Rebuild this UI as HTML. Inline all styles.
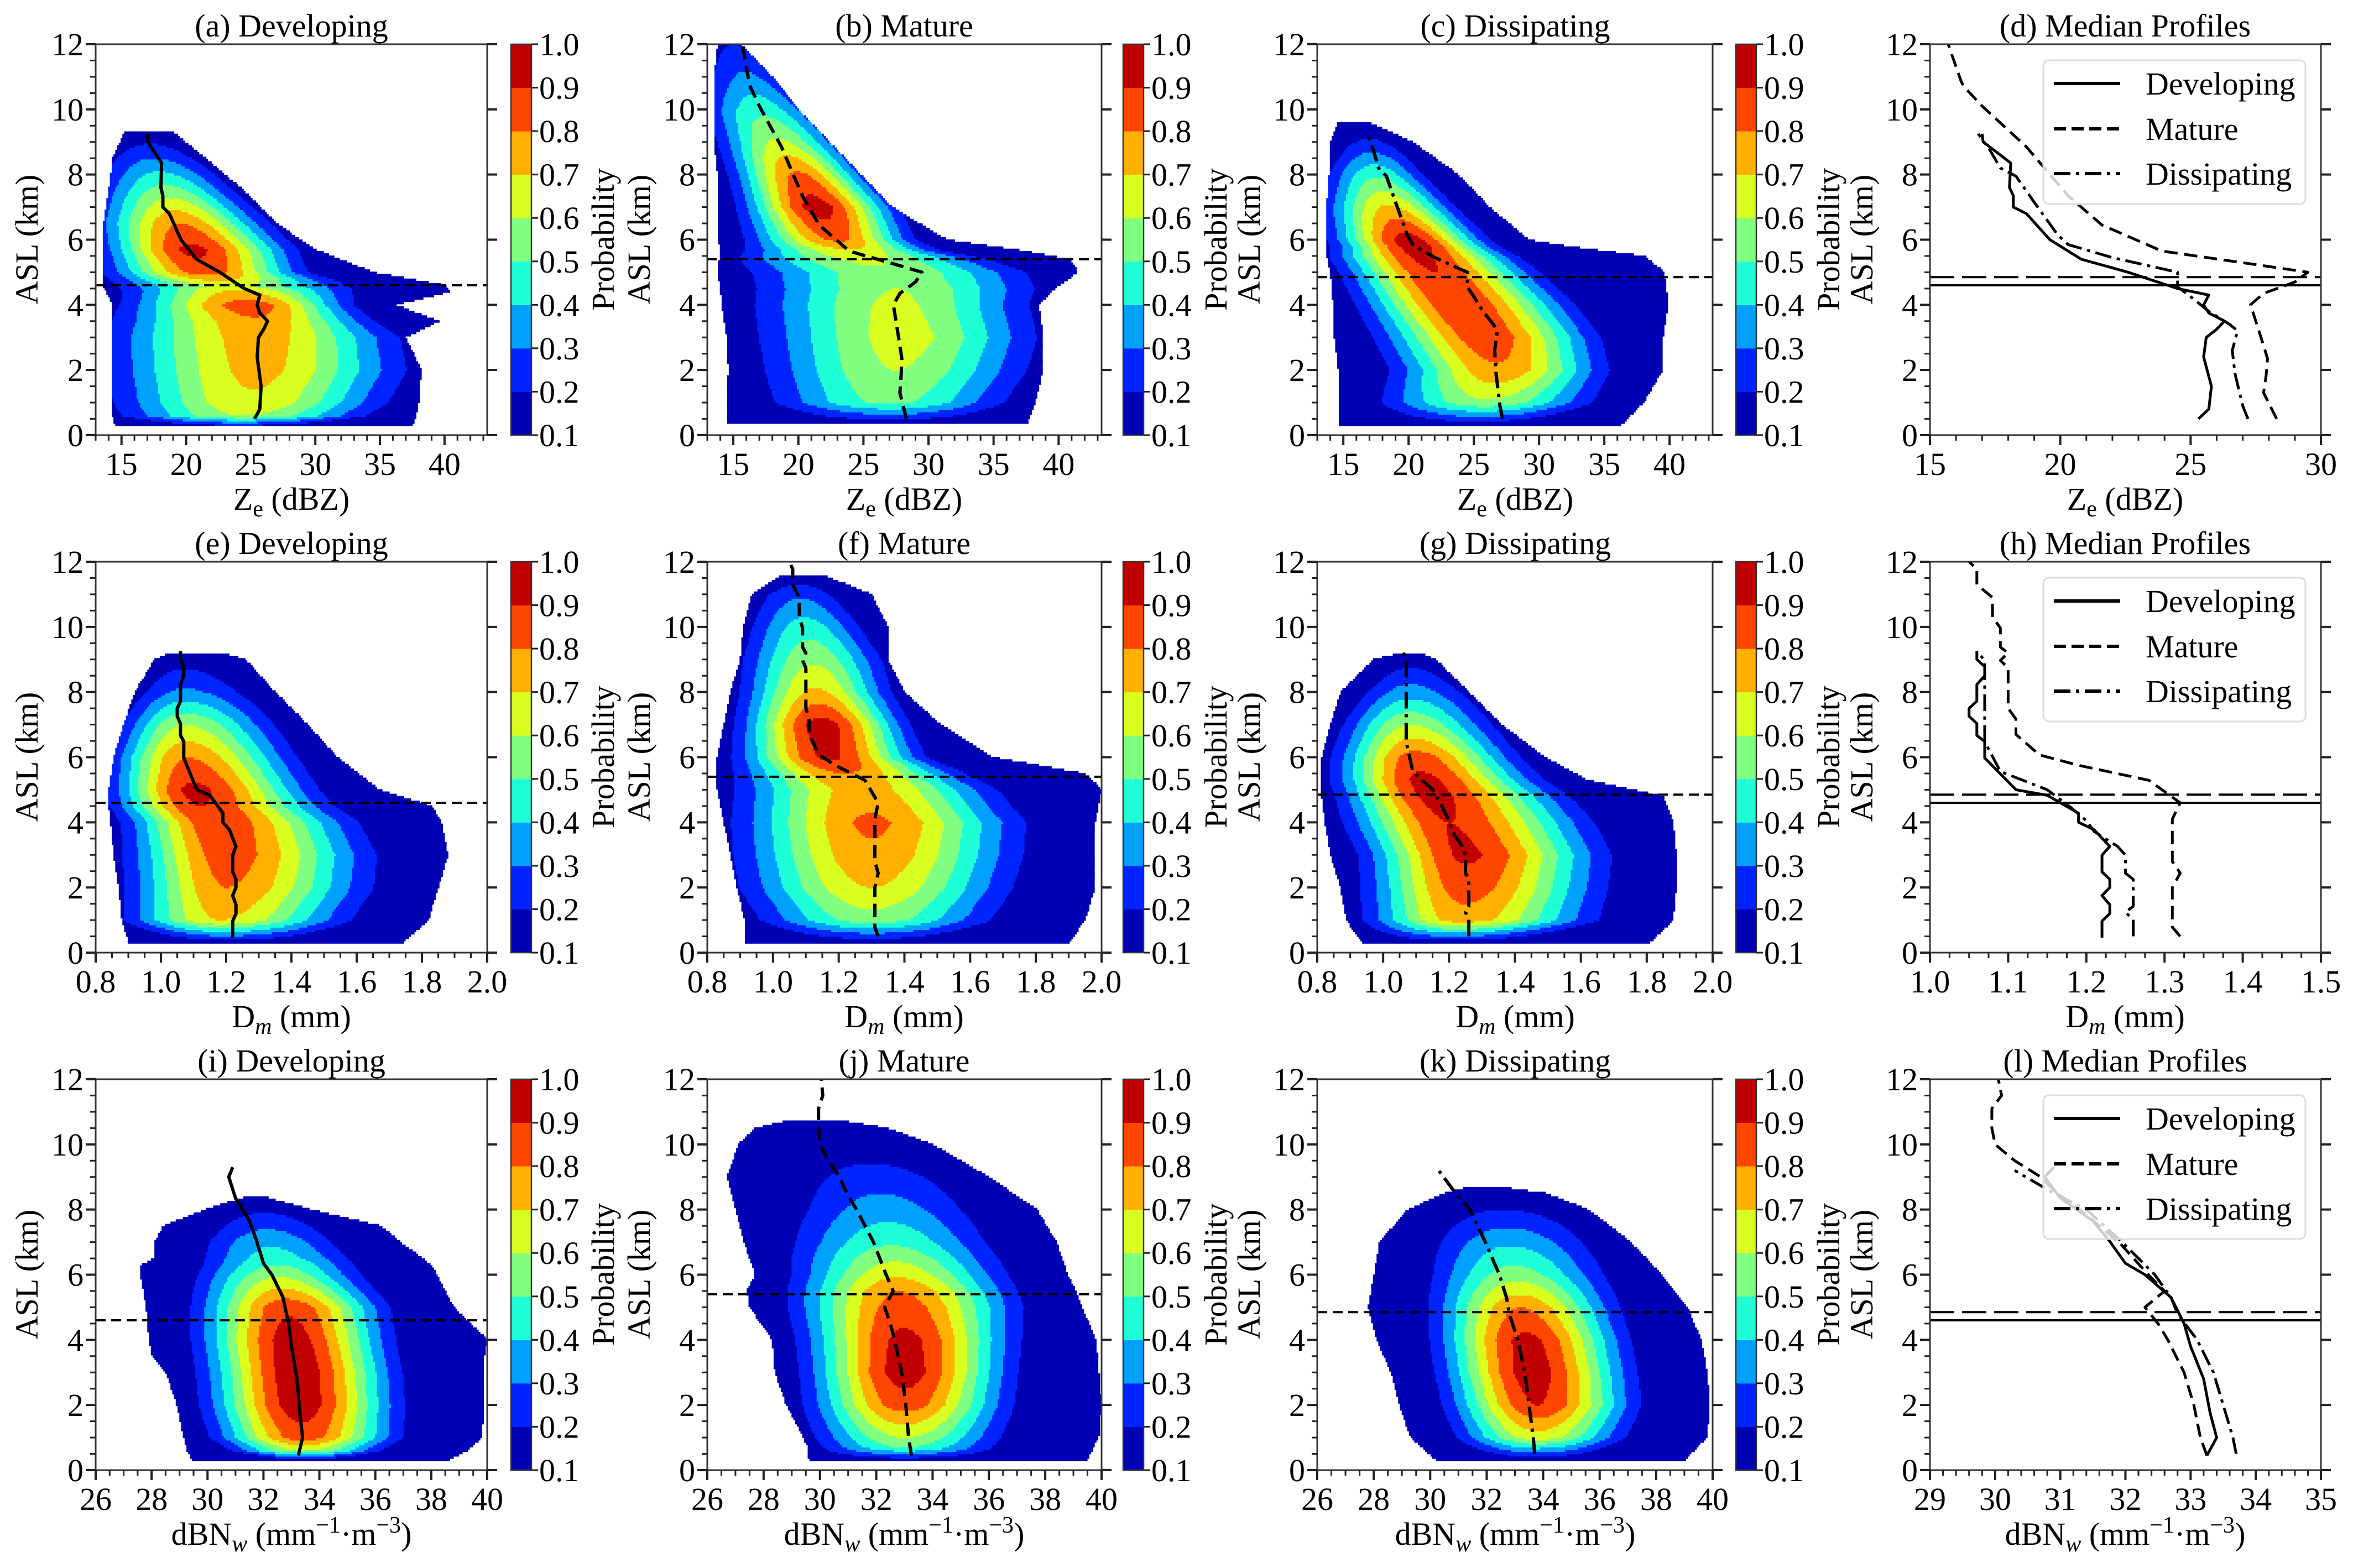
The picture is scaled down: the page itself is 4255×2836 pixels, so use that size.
<!DOCTYPE html>
<html><head><meta charset="utf-8"><title>Median profiles</title>
<style>html,body{margin:0;padding:0;background:#fff;}svg{display:block;font-family:"Liberation Serif","Times New Roman","DejaVu Serif","Noto Serif CJK SC",serif;} text,tspan{font-family:"Liberation Serif","Times New Roman","DejaVu Serif","Noto Serif CJK SC",serif;} .it{font-style:italic;}</style></head>
<body>
<svg id="fig" xmlns="http://www.w3.org/2000/svg" width="4255" height="2836" viewBox="0 0 4255 2836" font-family="'Liberation Serif', 'Times New Roman', 'DejaVu Serif', 'Noto Serif CJK SC', serif">
<rect x="0" y="0" width="4255" height="2836" fill="#fff"/>
<g id="layer" font-size="58" fill="#000">
<text x="527" y="66" text-anchor="middle">(a) Developing</text>
<text x="1635" y="66" text-anchor="middle">(b) Mature</text>
<text x="2740" y="66" text-anchor="middle">(c) Dissipating</text>
<text x="3843" y="66" text-anchor="middle">(d) Median Profiles</text>
<text x="527" y="1002" text-anchor="middle">(e) Developing</text>
<text x="1635" y="1002" text-anchor="middle">(f) Mature</text>
<text x="2740" y="1002" text-anchor="middle">(g) Dissipating</text>
<text x="3843" y="1002" text-anchor="middle">(h) Median Profiles</text>
<text x="527" y="1938" text-anchor="middle">(i) Developing</text>
<text x="1635" y="1938" text-anchor="middle">(j) Mature</text>
<text x="2740" y="1938" text-anchor="middle">(k) Dissipating</text>
<text x="3843" y="1938" text-anchor="middle">(l) Median Profiles</text>

<text x="527" y="922" text-anchor="middle">Z<tspan font-size="42" dy="12">e</tspan><tspan dy="-12"> (dBZ)</tspan></text>
<text x="1635" y="922" text-anchor="middle">Z<tspan font-size="42" dy="12">e</tspan><tspan dy="-12"> (dBZ)</tspan></text>
<text x="2740" y="922" text-anchor="middle">Z<tspan font-size="42" dy="12">e</tspan><tspan dy="-12"> (dBZ)</tspan></text>
<text x="3843" y="922" text-anchor="middle">Z<tspan font-size="42" dy="12">e</tspan><tspan dy="-12"> (dBZ)</tspan></text>
<text x="527" y="1858" text-anchor="middle">D<tspan font-size="42" dy="12" class="it">m</tspan><tspan dy="-12"> (mm)</tspan></text>
<text x="1635" y="1858" text-anchor="middle">D<tspan font-size="42" dy="12" class="it">m</tspan><tspan dy="-12"> (mm)</tspan></text>
<text x="2740" y="1858" text-anchor="middle">D<tspan font-size="42" dy="12" class="it">m</tspan><tspan dy="-12"> (mm)</tspan></text>
<text x="3843" y="1858" text-anchor="middle">D<tspan font-size="42" dy="12" class="it">m</tspan><tspan dy="-12"> (mm)</tspan></text>
<text x="527" y="2794" text-anchor="middle">dBN<tspan font-size="42" dy="12" class="it">w</tspan><tspan dy="-12"> (mm</tspan><tspan font-size="42" dy="-22">−1</tspan><tspan dy="22">·m</tspan><tspan font-size="42" dy="-22">−3</tspan><tspan dy="22">)</tspan></text>
<text x="1635" y="2794" text-anchor="middle">dBN<tspan font-size="42" dy="12" class="it">w</tspan><tspan dy="-12"> (mm</tspan><tspan font-size="42" dy="-22">−1</tspan><tspan dy="22">·m</tspan><tspan font-size="42" dy="-22">−3</tspan><tspan dy="22">)</tspan></text>
<text x="2740" y="2794" text-anchor="middle">dBN<tspan font-size="42" dy="12" class="it">w</tspan><tspan dy="-12"> (mm</tspan><tspan font-size="42" dy="-22">−1</tspan><tspan dy="22">·m</tspan><tspan font-size="42" dy="-22">−3</tspan><tspan dy="22">)</tspan></text>
<text x="3843" y="2794" text-anchor="middle">dBN<tspan font-size="42" dy="12" class="it">w</tspan><tspan dy="-12"> (mm</tspan><tspan font-size="42" dy="-22">−1</tspan><tspan dy="22">·m</tspan><tspan font-size="42" dy="-22">−3</tspan><tspan dy="22">)</tspan></text>

<text transform="translate(68,433) rotate(-90)" text-anchor="middle">ASL (km)</text>
<text transform="translate(1175,433) rotate(-90)" text-anchor="middle">ASL (km)</text>
<text transform="translate(2278,433) rotate(-90)" text-anchor="middle">ASL (km)</text>
<text transform="translate(3386,433) rotate(-90)" text-anchor="middle">ASL (km)</text>
<text transform="translate(68,1369) rotate(-90)" text-anchor="middle">ASL (km)</text>
<text transform="translate(1175,1369) rotate(-90)" text-anchor="middle">ASL (km)</text>
<text transform="translate(2278,1369) rotate(-90)" text-anchor="middle">ASL (km)</text>
<text transform="translate(3386,1369) rotate(-90)" text-anchor="middle">ASL (km)</text>
<text transform="translate(68,2305) rotate(-90)" text-anchor="middle">ASL (km)</text>
<text transform="translate(1175,2305) rotate(-90)" text-anchor="middle">ASL (km)</text>
<text transform="translate(2278,2305) rotate(-90)" text-anchor="middle">ASL (km)</text>
<text transform="translate(3386,2305) rotate(-90)" text-anchor="middle">ASL (km)</text>

<text transform="translate(1110,433) rotate(-90)" text-anchor="middle">Probability</text>
<text transform="translate(2218,433) rotate(-90)" text-anchor="middle">Probability</text>
<text transform="translate(3326,433) rotate(-90)" text-anchor="middle">Probability</text>
<text transform="translate(1110,1369) rotate(-90)" text-anchor="middle">Probability</text>
<text transform="translate(2218,1369) rotate(-90)" text-anchor="middle">Probability</text>
<text transform="translate(3326,1369) rotate(-90)" text-anchor="middle">Probability</text>
<text transform="translate(1110,2305) rotate(-90)" text-anchor="middle">Probability</text>
<text transform="translate(2218,2305) rotate(-90)" text-anchor="middle">Probability</text>
<text transform="translate(3326,2305) rotate(-90)" text-anchor="middle">Probability</text>
</g>
</svg>
<script>
// ---------- layout ----------
const COLX0 = [173, 1279, 2382, 3490];
const COLX1 = [881, 1992, 3097, 4197];
const ROWY0 = [80, 1016, 1952];
const ROWY1 = [787, 1723, 2659];
const CBX = [924, 2031, 3139];
const LEVEL_COLORS = ['#0000b4', '#0024ff', '#00a0ff', '#1effd8', '#80ff80', '#d8ff20', '#ffb000', '#ff4600', '#c00000'];
const CB_TICKS = [0.1, 0.2, 0.3, 0.4, 0.5, 0.6, 0.7, 0.8, 0.9, 1.0];
const FONT = "'Liberation Serif', 'Times New Roman', 'DejaVu Serif', 'Noto Serif CJK SC', serif";

// ---------- contour data (per-height envelope & ridge profile) ----------
// Panel a : Ze developing
const aH   = [0.25, 0.6, 1, 2, 3, 3.5, 4, 4.4, 4.6, 5, 5.7, 6.5, 7.5, 8.5, 9.3];
const aL   = [14.5, 14.3, 14.3, 14.3, 14.2, 14.2, 14.3, 13.8, 13.5, 13.5, 13.5, 13.6, 14.0, 14.3, 15.2];
const aR   = [37.5, 37.8, 38, 38.2, 37, 39.6, 36.2, 40.5, 40.0, 34.5, 30, 27, 24.5, 21.5, 19];
const aC   = [24, 24.5, 25, 25.5, 25.5, 25.5, 25, 24, 23, 21.5, 20.5, 19.5, 18.5, 17.5, 17];
const aA   = [0.12, 0.6, 0.68, 0.73, 0.75, 0.78, 0.86, 0.72, 0.62, 0.85, 0.93, 0.8, 0.55, 0.3, 0.12];
const aWL  = [6, 7.5, 8, 8.5, 8.5, 8, 7, 6.5, 6.5, 5.5, 5, 4.8, 4.3, 3.8, 3];
const aWR  = [6, 7.5, 8, 8.5, 8, 6.5, 5.5, 6.5, 7.5, 5.5, 5.5, 5, 4.3, 3.8, 3];
// Panel b : Ze mature
const bH   = [0.35, 1, 2, 3, 4, 4.5, 5, 5.4, 5.7, 6, 7, 8, 9, 10, 11, 12];
const bL   = [14.5, 14.5, 14.6, 14.5, 14.1, 14.0, 13.8, 13.9, 14, 13.8, 13.8, 13.8, 13.5, 13.5, 13.5, 13.8];
const bR   = [37.6, 38.2, 38.8, 38.8, 38.5, 39.7, 41.5, 40.9, 36.7, 31.4, 27.2, 24.8, 22.4, 20, 18, 15.6];
const bC   = [27, 27, 27.5, 28, 27.5, 27.5, 27, 25, 24, 23, 21.5, 20, 18.5, 17, 16, 15];
const bA   = [0.12, 0.52, 0.6, 0.64, 0.62, 0.6, 0.58, 0.62, 0.7, 0.82, 0.95, 0.82, 0.62, 0.47, 0.32, 0.2];
const bWL  = [7, 7.5, 8, 8.5, 8.5, 8.5, 8.5, 7.5, 6, 5, 4.2, 3.8, 3.7, 3.6, 3, 2.5];
const bWR  = [7, 7.5, 8, 8, 8, 8.5, 8.5, 7.5, 5, 4.2, 4.2, 3.8, 3.7, 3.6, 3, 2.5];
// Panel c : Ze dissipating
const cH   = [0.3, 1, 2, 3, 4, 5, 5.5, 5.8, 6, 7, 8, 9, 9.6];
const cL   = [14.6, 14.6, 14.6, 14.3, 14.2, 14.0, 13.7, 13.7, 13.7, 13.7, 13.9, 14.0, 14.6];
const cR   = [36.3, 38, 39.5, 39.5, 39.9, 39.6, 38.1, 32.2, 29.2, 26.2, 23.8, 20.3, 17.0];
const cC   = [25, 26, 27, 26, 24, 22, 21, 20.5, 20, 18.5, 17.5, 17, 17];
const cA   = [0.12, 0.58, 0.78, 0.87, 0.9, 0.9, 0.92, 0.95, 0.95, 0.72, 0.48, 0.22, 0.12];
const cWL  = [6, 6.5, 6, 6, 5.5, 5, 4.8, 4.3, 4.2, 3.8, 3.2, 2.7, 2];
const cWR  = [6, 6.5, 6, 6, 6, 5.5, 5, 4.3, 4.2, 3.8, 3.2, 2.7, 2];
// Panel e : Dm developing
const eH   = [0.3, 1, 2, 3, 4, 4.5, 5, 6, 7, 8, 9, 9.2];
const eL   = [0.90, 0.88, 0.87, 0.855, 0.845, 0.84, 0.84, 0.855, 0.885, 0.92, 0.98, 1.03];
const eR   = [1.74, 1.82, 1.85, 1.88, 1.86, 1.83, 1.67, 1.54, 1.45, 1.35, 1.26, 1.19];
const eC   = [1.2, 1.18, 1.2, 1.2, 1.17, 1.12, 1.1, 1.08, 1.07, 1.07, 1.07, 1.07];
const eA   = [0.12, 0.7, 0.8, 0.85, 0.88, 0.9, 0.93, 0.8, 0.6, 0.32, 0.15, 0.12];
const eWL  = [0.2, 0.22, 0.22, 0.22, 0.2, 0.19, 0.18, 0.17, 0.15, 0.14, 0.12, 0.1];
const eWR  = [0.25, 0.3, 0.32, 0.32, 0.3, 0.28, 0.26, 0.24, 0.22, 0.2, 0.15, 0.1];
// Panel f : Dm mature
const fH   = [0.3, 1, 2, 3, 4, 5, 5.5, 6, 7, 8, 9, 10, 11, 11.6];
const fL   = [0.913, 0.913, 0.89, 0.87, 0.85, 0.83, 0.83, 0.83, 0.85, 0.87, 0.9, 0.91, 0.935, 1.03];
const fR   = [1.90, 1.95, 1.98, 1.98, 1.98, 2.0, 1.95, 1.67, 1.51, 1.40, 1.35, 1.35, 1.30, 1.15];
const fC   = [1.3, 1.3, 1.3, 1.3, 1.3, 1.27, 1.22, 1.17, 1.15, 1.13, 1.12, 1.1, 1.08, 1.08];
const fA   = [0.12, 0.55, 0.7, 0.78, 0.82, 0.75, 0.8, 0.92, 0.95, 0.72, 0.58, 0.45, 0.28, 0.12];
const fWL  = [0.25, 0.28, 0.3, 0.3, 0.3, 0.28, 0.24, 0.2, 0.18, 0.17, 0.17, 0.15, 0.13, 0.1];
const fWR  = [0.25, 0.3, 0.32, 0.33, 0.33, 0.3, 0.26, 0.2, 0.18, 0.17, 0.17, 0.15, 0.13, 0.1];
// Panel g : Dm dissipating
const gH   = [0.3, 1, 2, 3, 4, 4.8, 5.3, 6, 7, 8, 9, 9.2];
const gL   = [0.936, 0.888, 0.87, 0.84, 0.823, 0.813, 0.813, 0.813, 0.84, 0.87, 0.97, 1.05];
const gR   = [1.81, 1.88, 1.89, 1.89, 1.88, 1.85, 1.62, 1.49, 1.36, 1.26, 1.16, 1.11];
const gC   = [1.2, 1.24, 1.25, 1.25, 1.2, 1.15, 1.12, 1.1, 1.08, 1.08, 1.08, 1.08];
const gA   = [0.12, 0.75, 0.85, 0.92, 0.9, 0.93, 0.93, 0.85, 0.6, 0.35, 0.15, 0.12];
const gWL  = [0.2, 0.22, 0.22, 0.22, 0.22, 0.2, 0.19, 0.18, 0.16, 0.14, 0.1, 0.08];
const gWR  = [0.25, 0.3, 0.3, 0.3, 0.3, 0.28, 0.25, 0.22, 0.2, 0.17, 0.12, 0.08];
// Panel i : dBNw developing
const iH   = [0.3, 0.6, 1, 2, 3, 3.5, 4, 5, 6, 6.3, 6.5, 7, 7.5, 8, 8.4];
const iL   = [29.46, 29.27, 29.14, 28.9, 28.5, 28.0, 27.9, 27.8, 27.6, 27.6, 28.1, 28.1, 28.4, 29.9, 31.4];
const iR   = [38.6, 39.3, 39.8, 39.9, 39.9, 39.9, 40, 38.8, 38.2, 38.0, 37.7, 36.9, 36.2, 33.7, 32.0];
const iC   = [33.5, 33.4, 33.4, 33.3, 33.2, 33.1, 33, 32.9, 32.5, 32.5, 32.4, 32.2, 32.1, 32, 32];
const iA   = [0.12, 0.6, 0.85, 0.96, 0.97, 0.96, 0.95, 0.88, 0.58, 0.5, 0.45, 0.38, 0.28, 0.18, 0.12];
const iWL  = [1.5, 2, 2.3, 2.4, 2.4, 2.4, 2.4, 2.4, 2.3, 2.3, 2.3, 2.2, 2.1, 2, 1.8];
const iWR  = [1.6, 2.2, 2.5, 2.5, 2.5, 2.5, 2.5, 2.5, 2.4, 2.4, 2.4, 2.3, 2.2, 2, 1.8];
// Panel j : dBNw mature
const jH   = [0.3, 0.7, 1, 2, 3, 4, 5, 5.5, 6, 7, 8, 9, 10, 10.5, 10.7];
const jL   = [29.6, 29.56, 29.4, 28.8, 28.4, 28.3, 27.5, 27.4, 27.7, 27.3, 27.0, 26.7, 27.1, 27.7, 28.7];
const jR   = [39.5, 39.7, 39.9, 40, 39.9, 39.8, 39.3, 39.1, 38.8, 38.4, 37.7, 36.0, 34.0, 32.4, 31.0];
const jC   = [33, 33, 33, 33, 33, 33, 32.9, 32.8, 32.7, 32.5, 32.3, 32, 31.5, 31, 30.5];
const jA   = [0.12, 0.5, 0.6, 0.85, 0.95, 0.93, 0.85, 0.8, 0.68, 0.48, 0.35, 0.25, 0.13, 0.11, 0.1];
const jWL  = [3, 2.5, 2.5, 2.5, 2.5, 2.6, 2.8, 2.8, 2.8, 3, 3, 3, 3, 3, 3];
const jWR  = [3, 2.7, 2.7, 2.7, 2.7, 2.8, 3, 3, 3, 3, 3, 3, 3, 3, 3];
// Panel k : dBNw dissipating
const kH   = [0.3, 1, 2, 3, 4, 5, 6, 7, 8, 8.5, 8.7];
const kL   = [30.2, 29.3, 28.9, 28.6, 28.1, 27.8, 28.0, 28.2, 29.2, 30.5, 31.4];
const kR   = [39.0, 39.8, 39.9, 39.8, 39.6, 39.1, 38.2, 37.1, 35.6, 34.1, 32.4];
const kC   = [33.8, 33.8, 33.8, 33.6, 33.4, 33.2, 33, 32.8, 32.6, 32.5, 32.5];
const kA   = [0.12, 0.65, 0.9, 0.95, 0.93, 0.8, 0.55, 0.38, 0.2, 0.13, 0.1];
const kWL  = [2, 2.2, 2.3, 2.3, 2.3, 2.3, 2.4, 2.5, 2.5, 2.5, 2.5];
const kWR  = [2, 2.4, 2.5, 2.5, 2.5, 2.5, 2.6, 2.7, 2.7, 2.5, 2.5];

// ---------- median profiles ----------
const zeDevH = [0.5, 0.8, 1.5, 2.4, 3.0, 3.25, 3.5, 3.75, 4.0, 4.3, 4.5, 5.0, 5.4, 6.0, 6.8, 7.0, 7.35, 7.6, 8.35, 8.6, 9.0, 9.25];
const zeDevV = [25.3, 25.7, 25.8, 25.5, 25.6, 26.0, 26.3, 25.7, 25.5, 25.7, 24.5, 22.6, 20.8, 19.6, 18.7, 18.2, 18.2, 18.05, 18.1, 17.7, 17.04, 17.0];
const zeMatH = [0.5, 1.3, 1.85, 2.35, 2.75, 3.75, 4.0, 4.35, 4.7, 5.0, 5.2, 5.65, 6.45, 7.35, 8.85, 10.1, 10.7, 10.85, 12];
const zeMatV = [28.3, 27.8, 27.9, 27.95, 27.8, 27.4, 27.3, 27.8, 29.0, 29.5, 27.8, 23.9, 21.6, 20.3, 18.7, 17.0, 16.3, 16.2, 15.7];
const zeDisH = [0.5, 0.9, 1.9, 2.6, 3.2, 3.4, 3.8, 4.25, 4.55, 5.0, 5.45, 5.85, 6.15, 7.15, 7.95, 8.2, 8.75, 9.25];
const zeDisV = [27.2, 27.0, 26.7, 26.6, 26.8, 26.5, 25.7, 25.0, 24.5, 24.5, 22.0, 20.3, 19.9, 19.0, 18.3, 17.7, 17.3, 16.85];
const dmDevH = [0.46, 0.97, 1.2, 1.47, 1.75, 2.0, 2.25, 2.48, 2.99, 3.26, 3.77, 4.0, 4.28, 4.83, 5.0, 5.98, 6.48, 6.67, 7.03, 7.26, 7.5, 7.72, 8.23, 8.5, 8.78, 9.0, 9.25];
const dmDevV = [1.22, 1.22, 1.23, 1.23, 1.22, 1.23, 1.23, 1.22, 1.22, 1.23, 1.21, 1.19, 1.19, 1.15, 1.11, 1.07, 1.07, 1.06, 1.06, 1.05, 1.05, 1.06, 1.06, 1.07, 1.07, 1.06, 1.06];
const dmMatH = [0.5, 0.78, 2.0, 2.44, 2.8, 4.1, 4.6, 5.29, 5.75, 6.07, 6.7, 7.17, 7.5, 8.74, 8.97, 9.2, 9.38, 9.97, 10.3, 10.9, 11.3, 11.77, 12];
const dmMatV = [1.32, 1.31, 1.31, 1.32, 1.31, 1.31, 1.32, 1.28, 1.19, 1.14, 1.11, 1.11, 1.10, 1.10, 1.09, 1.10, 1.09, 1.09, 1.08, 1.08, 1.06, 1.06, 1.05];
const dmDisH = [0.5, 1.01, 1.24, 1.42, 2.25, 2.44, 2.99, 3.26, 3.72, 4.05, 4.46, 5.0, 5.56, 6.48, 8.97, 9.25];
const dmDisV = [1.26, 1.26, 1.25, 1.26, 1.26, 1.25, 1.25, 1.24, 1.21, 1.20, 1.18, 1.15, 1.09, 1.07, 1.07, 1.06];
const nwDevH = [0.45, 1.0, 1.75, 2.8, 3.8, 4.5, 5.3, 6.0, 6.35, 7.05, 7.65, 8.35, 9.0, 9.3];
const nwDevV = [33.25, 33.4, 33.3, 33.2, 33.0, 32.9, 32.7, 32.3, 32.0, 31.75, 31.5, 31.0, 30.76, 30.9];
const nwMatH = [0.45, 1, 2, 3, 4, 4.5, 5.0, 5.5, 6, 7, 8, 8.5, 9.0, 9.5, 10.0, 10.5, 11.1, 11.5, 12];
const nwMatV = [33.25, 33.15, 33.05, 32.9, 32.65, 32.5, 32.3, 32.6, 32.35, 31.9, 31.3, 30.95, 30.7, 30.3, 30.0, 29.95, 29.95, 30.1, 30.05];
const nwDisH = [0.5, 1, 2, 3, 4, 4.8, 5.3, 6, 7, 8, 8.5, 9.2];
const nwDisV = [33.7, 33.65, 33.5, 33.35, 33.1, 32.8, 32.7, 32.45, 31.95, 31.4, 30.9, 30.3];

// melting-layer heights
const mlDev = 4.6, mlMat = 5.4, mlDis = 4.85;

// axis ticks
const zeTicks = [15, 20, 25, 30, 35, 40];
const dmTicks = [0.8, 1.0, 1.2, 1.4, 1.6, 1.8, 2.0];
const nwTicks = [26, 28, 30, 32, 34, 36, 38, 40];
const zeTicks4 = [15, 20, 25, 30];
const dmTicks4 = [1.0, 1.1, 1.2, 1.3, 1.4, 1.5];
const nwTicks4 = [29, 30, 31, 32, 33, 34, 35];
const yTicks = [0, 2, 4, 6, 8, 10, 12];

const SVGNS = 'http://www.w3.org/2000/svg';
const svg = document.getElementById('fig');
function mk(tag, attrs, parent) {
  const e = document.createElementNS(SVGNS, tag);
  for (const k in attrs) e.setAttribute(k, attrs[k]);
  (parent || svg).appendChild(e);
  return e;
}
function interp(H, V, h) {
  if (h <= H[0]) return V[0];
  for (let i = 1; i < H.length; i++) {
    if (h <= H[i]) { const t = (h - H[i-1]) / (H[i] - H[i-1]); return V[i-1] + t * (V[i] - V[i-1]); }
  }
  return V[V.length - 1];
}
function makeScale(c, r, xmin, xmax) {
  const x0 = COLX0[c], x1 = COLX1[c], y0 = ROWY0[r], y1 = ROWY1[r];
  return {
    sx: v => x0 + (v - xmin) / (xmax - xmin) * (x1 - x0),
    sy: h => y1 - h / 12 * (y1 - y0),
    x0, x1, y0, y1, xmin, xmax
  };
}

let clipN = 0;
function clipFor(s) {
  const id = 'clip' + (clipN++);
  const defs = mk('defs', {});
  const cp = mk('clipPath', {id: id}, defs);
  mk('rect', {x: s.x0, y: s.y0, width: s.x1 - s.x0, height: s.y1 - s.y0}, cp);
  return 'url(#' + id + ')';
}

function drawContour(name, s, H, L, R, C, A, WL, WR) {
  const g = mk('g', {'clip-path': clipFor(s)});
  
  
  const ny = 170, nx = 220;
  const hTop = H[H.length - 1], hBot = H[0];
  for (let j = 0; j < ny; j++) {
    const hA = 12 * j / ny, hB = 12 * (j + 1) / ny, h = (hA + hB) / 2;
    if (h < hBot || h > hTop) continue;
    const l = interp(H, L, h), r = interp(H, R, h), c = interp(H, C, h), a = interp(H, A, h);
    const wl = interp(H, WL, h), wr = interp(H, WR, h);
    let runStart = -1, runLev = -1;
    const yTop = s.sy(hB), yBot = s.sy(hA);
    const flush = (endIdx) => {
      if (runLev < 0) return;
      const xa = s.xmin + (s.xmax - s.xmin) * runStart / nx;
      const xb = s.xmin + (s.xmax - s.xmin) * endIdx / nx;
      const rect = mk('rect', {x: s.sx(xa).toFixed(1), y: (yTop - 0.4).toFixed(1), width: (s.sx(xb) - s.sx(xa) + 0.6).toFixed(1), height: (yBot - yTop + 0.8).toFixed(1), fill: LEVEL_COLORS[runLev]}, g);
      
      
    };
    for (let i = 0; i <= nx; i++) {
      let lev = -1;
      if (i < nx) {
        const x = s.xmin + (s.xmax - s.xmin) * (i + 0.5) / nx;
        if (x >= l && x <= r) {
          const d = x - c, w = d < 0 ? wl : wr;
          let v = a * Math.pow(2, -(d / w) * (d / w));
          if (v < 0.1001) v = 0.1001;
          lev = Math.min(8, Math.max(0, Math.floor((v - 0.1) / 0.1 + 1e-9)));
        }
      }
      if (lev !== runLev) { flush(i); runStart = i; runLev = lev; }
    }
  }
}

function drawProfile(name, s, H, V, dash, width) {
  let d = '';
  for (let i = 0; i < H.length; i++) d += (i ? 'L' : 'M') + s.sx(V[i]).toFixed(1) + ',' + s.sy(H[i]).toFixed(1);
  const p = mk('path', {d: d, fill: 'none', stroke: '#000', 'stroke-width': width, 'stroke-linejoin': 'round', 'clip-path': clipFor(s)});
  if (dash) p.setAttribute('stroke-dasharray', dash);
  
  
}

function drawHLine(name, s, h, dash, width) {
  const l = mk('line', {x1: s.x0, x2: s.x1, y1: s.sy(h), y2: s.sy(h), stroke: '#000', 'stroke-width': width});
  if (dash) l.setAttribute('stroke-dasharray', dash);
  
  
}

function drawAxes(name, s, ticks, minorStep, fmt) {
  const g = mk('g', {});
  
  
  const fr = mk('rect', {x: s.x0, y: s.y0, width: s.x1 - s.x0, height: s.y1 - s.y0, fill: 'none', stroke: '#333', 'stroke-width': 3}, g);
  
  
  const n0 = Math.ceil((s.xmin - 1e-9) / minorStep), n1 = Math.floor((s.xmax + 1e-9) / minorStep);
  for (let n = n0; n <= n1; n++) {
    const x = s.sx(n * minorStep);
    mk('line', {x1: x, x2: x, y1: s.y1, y2: s.y1 + 10, stroke: '#222', 'stroke-width': 3}, g);
  }
  ticks.forEach(t => {
    const x = s.sx(t);
    mk('line', {x1: x, x2: x, y1: s.y1, y2: s.y1 + 18, stroke: '#222', 'stroke-width': 4}, g);
    const tx = mk('text', {x: x, y: s.y1 + 72, 'text-anchor': 'middle', 'font-size': 58, 'font-family': FONT}, g);
    tx.textContent = fmt(t);
    
    
  });
  for (let k = 0; k <= 24; k++) {
    const y = s.sy(k * 0.5);
    mk('line', {x1: s.x0 - (k % 4 === 0 ? 18 : 10), x2: s.x0, y1: y, y2: y, stroke: '#222', 'stroke-width': k % 4 === 0 ? 4 : 3}, g);
  }
  yTicks.forEach(t => {
    const y = s.sy(t);
    mk('line', {x1: s.x1, x2: s.x1 + 18, y1: y, y2: y, stroke: '#222', 'stroke-width': 4}, g);
    const tx = mk('text', {x: s.x0 - 22, y: y + 20, 'text-anchor': 'end', 'font-size': 58, 'font-family': FONT}, g);
    tx.textContent = String(t);
    
    
  });
}

function drawColorbar(name, c, r) {
  const x = CBX[c], y0 = ROWY0[r], y1 = ROWY1[r], w = 37;
  const g = mk('g', {});
  
  
  const sv = v => y1 - (v - 0.1) / 0.9 * (y1 - y0);
  for (let i = 0; i < LEVEL_COLORS.length; i++) {
    const ya = sv(CB_TICKS[i + 1]), yb = sv(CB_TICKS[i]);
    const rc = mk('rect', {x: x, y: ya, width: w, height: yb - ya + 0.5, fill: LEVEL_COLORS[i]}, g);
    
    
  }
  mk('rect', {x: x, y: y0, width: w, height: y1 - y0, fill: 'none', stroke: '#333', 'stroke-width': 2.5}, g);
  CB_TICKS.forEach(t => {
    const y = sv(t);
    mk('line', {x1: x + w, x2: x + w + 12, y1: y, y2: y, stroke: '#222', 'stroke-width': 3}, g);
    const tx = mk('text', {x: x + w + 14, y: y + 20, 'font-size': 58, 'font-family': FONT}, g);
    tx.textContent = t.toFixed(1);
    
    
  });
}

function drawLegend(name, s) {
  const g = mk('g', {});
  
  
  mk('rect', {x: s.x0 + 205, y: s.y0 + 29, width: 474, height: 260, rx: 10, fill: '#fff', 'fill-opacity': 0.8, stroke: '#ddd', 'stroke-width': 3}, g);
  const labels = ['Developing', 'Mature', 'Dissipating'];
  const dashes = ['', '22 10', '30 10 6 10'];
  const offs = [71, 153, 234];
  for (let i = 0; i < 3; i++) {
    const y = s.y0 + offs[i];
    const ln = mk('line', {x1: s.x0 + 224, x2: s.x0 + 344, y1: y, y2: y, stroke: '#000', 'stroke-width': 6}, g);
    if (dashes[i]) ln.setAttribute('stroke-dasharray', dashes[i]);
    
    
    const tx = mk('text', {x: s.x0 + 390, y: y + 20, 'font-size': 58, 'font-family': FONT}, g);
    tx.textContent = labels[i];
    
    
  }
}

const f0 = t => String(t), f1 = t => t.toFixed(1);
const DASH = '24 12', DASHDOT = '30 10 6 10', MLDASH = '18 10';

// Row 1 : Ze
const sa = makeScale(0, 0, 13, 43.3), sb = makeScale(1, 0, 13, 43.3), sc = makeScale(2, 0, 13, 43.3), sd = makeScale(3, 0, 15, 30);
drawContour('a', sa, aH, aL, aR, aC, aA, aWL, aWR);
drawContour('b', sb, bH, bL, bR, bC, bA, bWL, bWR);
drawContour('c', sc, cH, cL, cR, cC, cA, cWL, cWR);
drawHLine('ml-line-a', sa, mlDev, MLDASH, 4);
drawHLine('ml-line-b', sb, mlMat, MLDASH, 4);
drawHLine('ml-line-c', sc, mlDis, MLDASH, 4);
drawProfile('median-line-a', sa, zeDevH, zeDevV, '', 6);
drawProfile('median-line-b', sb, zeMatH, zeMatV, DASH, 6);
drawProfile('median-line-c', sc, zeDisH, zeDisV, DASHDOT, 6);
drawHLine('ml-dev-line-d', sd, mlDev, '', 4);
drawHLine('ml-dis-line-d', sd, mlDis, '44 14', 4);
drawProfile('median-developing-d', sd, zeDevH, zeDevV, '', 5);
drawProfile('median-mature-d', sd, zeMatH, zeMatV, DASH, 5);
drawProfile('median-dissipating-d', sd, zeDisH, zeDisV, DASHDOT, 5);
drawAxes('a', sa, zeTicks, 1, f0); drawAxes('b', sb, zeTicks, 1, f0); drawAxes('c', sc, zeTicks, 1, f0);
drawAxes('d', sd, zeTicks4, 1, f0);
drawColorbar('a', 0, 0); drawColorbar('b', 1, 0); drawColorbar('c', 2, 0);
drawLegend('d', sd);

// Row 2 : Dm
const se = makeScale(0, 1, 0.8, 2.0), sf = makeScale(1, 1, 0.8, 2.0), sg = makeScale(2, 1, 0.8, 2.0), sh = makeScale(3, 1, 1.0, 1.5);
drawContour('e', se, eH, eL, eR, eC, eA, eWL, eWR);
drawContour('f', sf, fH, fL, fR, fC, fA, fWL, fWR);
drawContour('g', sg, gH, gL, gR, gC, gA, gWL, gWR);
drawHLine('ml-line-e', se, mlDev, MLDASH, 4);
drawHLine('ml-line-f', sf, mlMat, MLDASH, 4);
drawHLine('ml-line-g', sg, mlDis, MLDASH, 4);
drawProfile('median-line-e', se, dmDevH, dmDevV, '', 6);
drawProfile('median-line-f', sf, dmMatH, dmMatV, DASH, 6);
drawProfile('median-line-g', sg, dmDisH, dmDisV, DASHDOT, 6);
drawHLine('ml-dev-line-h', sh, mlDev, '', 4);
drawHLine('ml-dis-line-h', sh, mlDis, '44 14', 4);
drawProfile('median-developing-h', sh, dmDevH, dmDevV, '', 5);
drawProfile('median-mature-h', sh, dmMatH, dmMatV, DASH, 5);
drawProfile('median-dissipating-h', sh, dmDisH, dmDisV, DASHDOT, 5);
drawAxes('e', se, dmTicks, 0.05, f1); drawAxes('f', sf, dmTicks, 0.05, f1); drawAxes('g', sg, dmTicks, 0.05, f1);
drawAxes('h', sh, dmTicks4, 0.025, f1);
drawColorbar('e', 0, 1); drawColorbar('f', 1, 1); drawColorbar('g', 2, 1);
drawLegend('h', sh);

// Row 3 : dBNw
const si = makeScale(0, 2, 26, 40), sj = makeScale(1, 2, 26, 40), sk = makeScale(2, 2, 26, 40), sl = makeScale(3, 2, 29, 35);
drawContour('i', si, iH, iL, iR, iC, iA, iWL, iWR);
drawContour('j', sj, jH, jL, jR, jC, jA, jWL, jWR);
drawContour('k', sk, kH, kL, kR, kC, kA, kWL, kWR);
drawHLine('ml-line-i', si, mlDev, MLDASH, 4);
drawHLine('ml-line-j', sj, mlMat, MLDASH, 4);
drawHLine('ml-line-k', sk, mlDis, MLDASH, 4);
drawProfile('median-line-i', si, nwDevH, nwDevV, '', 6);
drawProfile('median-line-j', sj, nwMatH, nwMatV, DASH, 6);
drawProfile('median-line-k', sk, nwDisH, nwDisV, DASHDOT, 6);
drawHLine('ml-dev-line-l', sl, mlDev, '', 4);
drawHLine('ml-dis-line-l', sl, mlDis, '44 14', 4);
drawProfile('median-developing-l', sl, nwDevH, nwDevV, '', 5);
drawProfile('median-mature-l', sl, nwMatH, nwMatV, DASH, 5);
drawProfile('median-dissipating-l', sl, nwDisH, nwDisV, DASHDOT, 5);
drawAxes('i', si, nwTicks, 0.5, f0); drawAxes('j', sj, nwTicks, 0.5, f0); drawAxes('k', sk, nwTicks, 0.5, f0);
drawAxes('l', sl, nwTicks4, 0.2, f0);
drawColorbar('i', 0, 2); drawColorbar('j', 1, 2); drawColorbar('k', 2, 2);
drawLegend('l', sl);

// bring static labels to front
svg.appendChild(document.getElementById('layer'));
</script>
</body></html>
